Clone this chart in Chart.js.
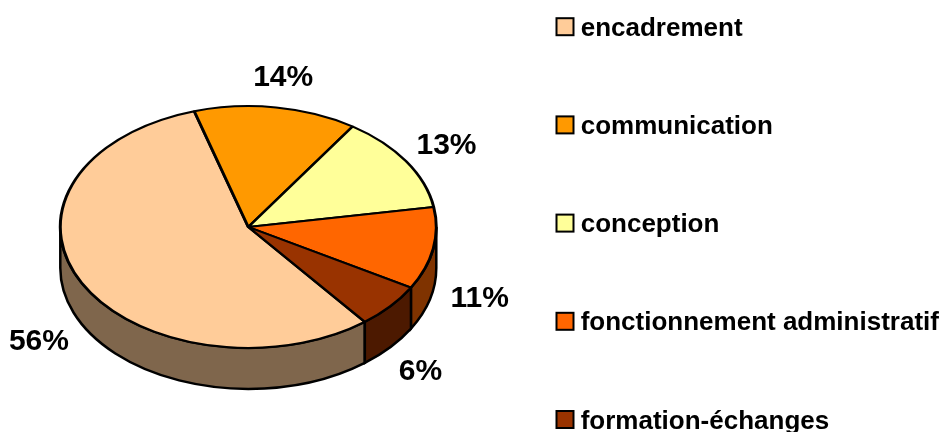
<!DOCTYPE html>
<html>
<head>
<meta charset="utf-8">
<script src="https://cdn.jsdelivr.net/npm/chart.js@4.4.0/dist/chart.umd.min.js"></script>
<style>
  html, body { margin: 0; padding: 0; background: #fff; }
</style>
</head>
<body>
<canvas id="pie" width="951" height="432"></canvas>
<script>
const labels = ["encadrement", "communication", "conception", "fonctionnement administratif", "formation-échanges"];
const shares = [56, 14, 13, 11, 6];
const topColors = ["#FFCC99", "#FF9900", "#FFFF99", "#FF6600", "#993300"];
const sideColors = ["#7F664C", "#7F4C00", "#7F7F4C", "#7F3300", "#4C1900"];

// =====================
// 3D LOOK
// =====================
const TILT = 0.643;   // vertical squash of the top face
const DEPTH = 41;     // height of the side wall
const FONT = '"Liberation Sans", Arial, sans-serif';

const tiltPlugin = {
  id: 'tilt',
  beforeDatasetsDraw(chart) {
    const ctx = chart.ctx;
    const arcs = chart.getDatasetMeta(0).data;
    // side wall, only the front half (0..PI) is visible
    arcs.forEach((arc, i) => {
      const p = arc.getProps(['x', 'y', 'startAngle', 'endAngle', 'outerRadius']);
      const ry = p.outerRadius * TILT;
      for (let k = -2; k <= 1; k++) {
        const a = Math.max(p.startAngle + 2 * Math.PI * k, 0);
        const b = Math.min(p.endAngle + 2 * Math.PI * k, Math.PI);
        if (b <= a) continue;
        ctx.beginPath();
        ctx.ellipse(p.x, p.y, p.outerRadius, ry, 0, a, b);
        ctx.ellipse(p.x, p.y + DEPTH, p.outerRadius, ry, 0, b, a, true);
        ctx.closePath();
        ctx.fillStyle = sideColors[i];
        ctx.fill();
        ctx.lineWidth = 2.5;
        ctx.strokeStyle = '#000';
        ctx.stroke();
      }
    });
    // squash the top face drawn by chart.js
    const cy = arcs[0].y;
    ctx.save();
    ctx.translate(0, cy);
    ctx.scale(1, TILT);
    ctx.translate(0, -cy);
  },
  afterDatasetsDraw(chart) {
    chart.ctx.restore();
  }
};

const textPlugin = {
  id: 'texts',
  afterDraw(chart) {
    const ctx = chart.ctx;
    const meta = chart.getDatasetMeta(0);
    const total = shares.reduce((s, v) => s + v, 0);
    ctx.save();
    ctx.fillStyle = '#000';

    // percent labels outside each slice
    ctx.font = 'bold 30px ' + FONT;
    ctx.textAlign = 'center';
    ctx.textBaseline = 'alphabetic';
    meta.data.forEach((arc, i) => {
      const p = arc.getProps(['x', 'y', 'startAngle', 'endAngle', 'outerRadius']);
      const mid = (p.startAngle + p.endAngle) / 2;
      const c = Math.cos(mid), s = Math.sin(mid);
      const ex = p.x + c * p.outerRadius;
      const ey = p.y + s * p.outerRadius * TILT + (s > 0 ? DEPTH : 0);
      const txt = Math.round(shares[i] / total * 100) + '%';
      const hw = ctx.measureText(txt).width / 2, hh = 11;
      ctx.fillText(txt, ex + c * (18 + hw), ey + s * (22 + hh) + hh);
    });

    // legend
    ctx.font = 'bold 26px ' + FONT;
    ctx.textAlign = 'left';
    labels.forEach((lab, i) => {
      const base = 35.7 + i * 98.2;
      ctx.fillStyle = topColors[i];
      ctx.fillRect(556.5, base - 17.5, 17, 17);
      ctx.lineWidth = 2;
      ctx.strokeStyle = '#000';
      ctx.strokeRect(556.5, base - 17.5, 17, 17);
      ctx.fillStyle = '#000';
      ctx.fillText(lab, 580.7, base);
    });
    ctx.restore();
  }
};

new Chart(document.getElementById('pie'), {
  type: 'pie',
  data: {
    labels: labels,
    datasets: [{
      data: shares,
      backgroundColor: topColors,
      borderColor: '#000',
      borderWidth: 3,
      clip: false
    }]
  },
  options: {
    responsive: false,
    animation: false,
    events: [],
    rotation: 141.7,
    radius: 188,
    layout: { padding: { left: 0, right: 454.4, top: 22, bottom: 0 } },
    plugins: {
      legend: { display: false },
      tooltip: { enabled: false }
    }
  },
  plugins: [tiltPlugin, textPlugin]
});
</script>
</body>
</html>
